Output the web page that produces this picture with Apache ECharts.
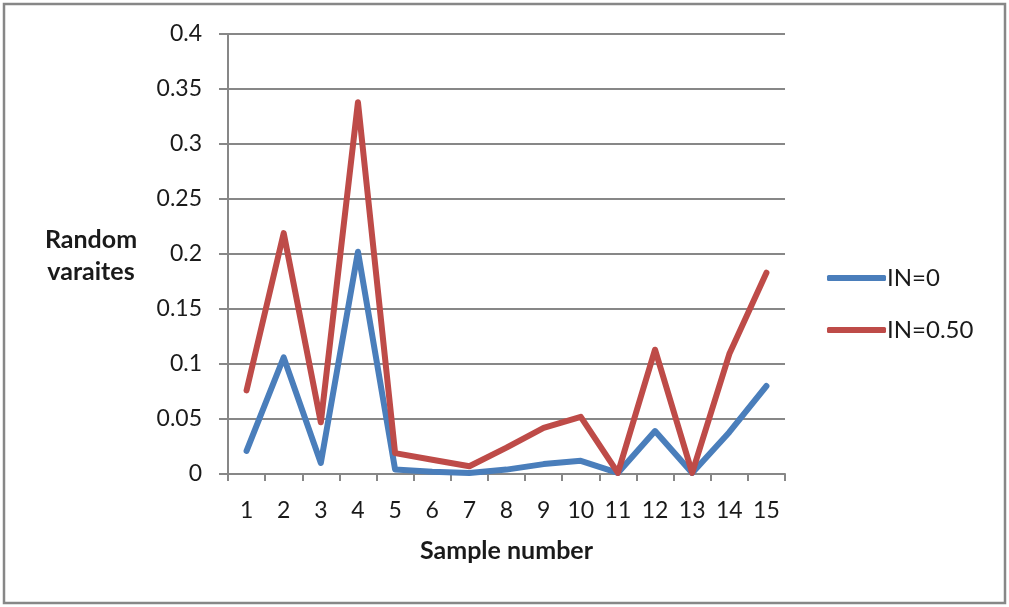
<!DOCTYPE html>
<html>
<head>
<meta charset="utf-8">
<script src="https://cdn.jsdelivr.net/npm/echarts@6/dist/echarts.min.js"></script>
<style>
html,body{margin:0;padding:0;background:#fff;}
#chart{width:1009px;height:607px;}
</style>
</head>
<body>
<div id="chart"></div>
<script>
const categories = ['1','2','3','4','5','6','7','8','9','10','11','12','13','14','15'];
const seriesNames = ['IN=0', 'IN=0.50'];
const valuesIN0 = [0.021, 0.106, 0.010, 0.202, 0.004, 0.002, 0.001, 0.004, 0.009, 0.012, 0.001, 0.039, 0.001, 0.038, 0.080];
const valuesIN050 = [0.076, 0.219, 0.047, 0.338, 0.019, 0.013, 0.007, 0.024, 0.042, 0.052, 0.001, 0.113, 0.001, 0.109, 0.183];
const yAxisTitle = 'Random\nvaraites';
const xAxisTitle = 'Sample number';

const FONT = 'Lato, "Open Sans", sans-serif';
const GRAY = '#878787';
const chart = echarts.init(document.getElementById('chart'), null, {renderer: 'canvas'});
chart.setOption({
  animation: false,
  backgroundColor: '#fff',
  grid: {left: 228, right: 224, top: 34, bottom: 133, containLabel: false},
  graphic: [
    {type: 'rect', shape: {x: 4, y: 4, width: 1001, height: 599},
     style: {fill: 'none', stroke: GRAY, lineWidth: 2.5}, silent: true},
    {type: 'text', x: 91, y: 256,
     style: {text: yAxisTitle, fontFamily: FONT, fontWeight: 'bold', fontSize: 25,
             lineHeight: 32, fill: '#1a1a1a', align: 'center', verticalAlign: 'middle'}}
  ],
  legend: {
    orient: 'vertical', left: 822, top: 261,
    itemWidth: 59, itemHeight: 6, itemGap: 28, icon: 'roundRect',
    textStyle: {fontFamily: FONT, fontSize: 24, color: '#1a1a1a', padding: [0,0,0,-4]},
    data: seriesNames
  },
  xAxis: {
    type: 'category', data: categories, boundaryGap: true,
    name: xAxisTitle, nameLocation: 'middle', nameGap: 64,
    nameTextStyle: {fontFamily: FONT, fontWeight: 'bold', fontSize: 25, color: '#1a1a1a'},
    axisLine: {lineStyle: {color: GRAY, width: 2}},
    axisTick: {show: true, inside: false, length: 7, lineStyle: {color: GRAY, width: 2}, alignWithLabel: false},
    axisLabel: {fontFamily: FONT, fontSize: 23, color: '#1a1a1a', margin: 25, interval: 0},
    splitLine: {show: false}
  },
  yAxis: {
    type: 'value', min: 0, max: 0.4, interval: 0.05,
    axisLine: {show: true, lineStyle: {color: GRAY, width: 2}},
    axisTick: {show: true, inside: false, length: 9, lineStyle: {color: GRAY, width: 2}},
    axisLabel: {fontFamily: FONT, fontSize: 23, color: '#1a1a1a', margin: 26},
    splitLine: {show: true, lineStyle: {color: GRAY, width: 2}}
  },
  series: [
    {name: seriesNames[0], type: 'line', data: valuesIN0, symbol: 'none',
     lineStyle: {color: '#4a7ebb', width: 6, cap: 'round', join: 'round'}, itemStyle: {color: '#4a7ebb'}},
    {name: seriesNames[1], type: 'line', data: valuesIN050, symbol: 'none',
     lineStyle: {color: '#be4b48', width: 6, cap: 'round', join: 'round'}, itemStyle: {color: '#be4b48'}}
  ]
});
</script>
</body>
</html>
